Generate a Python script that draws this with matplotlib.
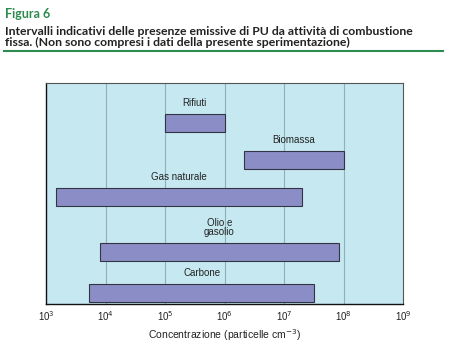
import matplotlib
matplotlib.use("Agg")
import matplotlib.pyplot as plt
from matplotlib.lines import Line2D

# data
fonti = ["Rifiuti", "Biomassa", "Gas naturale", "Olio e\ngasolio", "Carbone"]
conc_min = [1.0e5, 2.1e6, 1.45e3, 8.1e3, 5.3e3]
conc_max = [1.0e6, 1.0e8, 2.0e7, 8.3e7, 3.2e7]
pos_y = [181, 144, 107, 52, 11]
xticks = [1e3, 1e4, 1e5, 1e6, 1e7, 1e8, 1e9]
xlabels = ["10$^{3}$", "10$^{4}$", "10$^{5}$", "10$^{6}$", "10$^{7}$", "10$^{8}$", "10$^{9}$"]

plt.rcParams["font.family"] = ["Liberation Sans", "DejaVu Sans"]

fig = plt.figure(figsize=(4.5, 3.51), dpi=100)
ax = fig.add_axes([46 / 450, 1 - 304 / 351, 357 / 450, 221 / 351])
ax.set_facecolor("#c6e9f1")

for lo, hi, y, name in zip(conc_min, conc_max, pos_y, fonti):
    ax.barh(y, hi - lo, left=lo, height=18, color="#8b8ec6",
            edgecolor="#333344", linewidth=0.8, zorder=3)
    xc = (lo * hi) ** 0.5
    ax.annotate(name, (xc, y + 9), xytext=(0, 4), textcoords="offset points",
                ha="center", va="bottom", fontsize=7, linespacing=0.9,
                color="#222222", zorder=4)

ax.set_xscale("log")
ax.set_xlim(1e3, 1e9)
ax.set_ylim(0, 221)
ax.set_xticks(xticks)
ax.set_xticklabels(xlabels, fontsize=7, color="#222222")
ax.minorticks_off()
ax.set_yticks([])
ax.tick_params(axis="x", length=0, pad=4)
for xv in xticks[1:-1]:
    ax.axvline(xv, color="#8fb0b8", linewidth=0.8, zorder=1)
for side in ["top", "right"]:
    ax.spines[side].set_color("#555555")
    ax.spines[side].set_linewidth(0.8)
for side in ["left", "bottom"]:
    ax.spines[side].set_color("#111111")
    ax.spines[side].set_linewidth(1.0)
ax.set_xlabel("Concentrazione (particelle cm$^{-3}$)", fontsize=7.5, color="#222222", labelpad=3)

fig.text(5 / 450, 1 - 14 / 351, "Figura 6", fontsize=9, fontweight="bold",
         color="#2e8b4e", family="Lato", va="center")
fig.text(5 / 450, 1 - 37 / 351,
         "Intervalli indicativi delle presenze emissive di PU da attività di combustione\n"
         "fissa. (Non sono compresi i dati della presente sperimentazione)",
         fontsize=8.8, fontweight="bold", color="#222222", family="Lato",
         va="center", linespacing=1.05)
fig.add_artist(Line2D([4 / 450, 443 / 450], [1 - 50.5 / 351, 1 - 50.5 / 351],
                      color="#2e8b4e", linewidth=1.5, transform=fig.transFigure))

fig.savefig("out.png", dpi=100)
